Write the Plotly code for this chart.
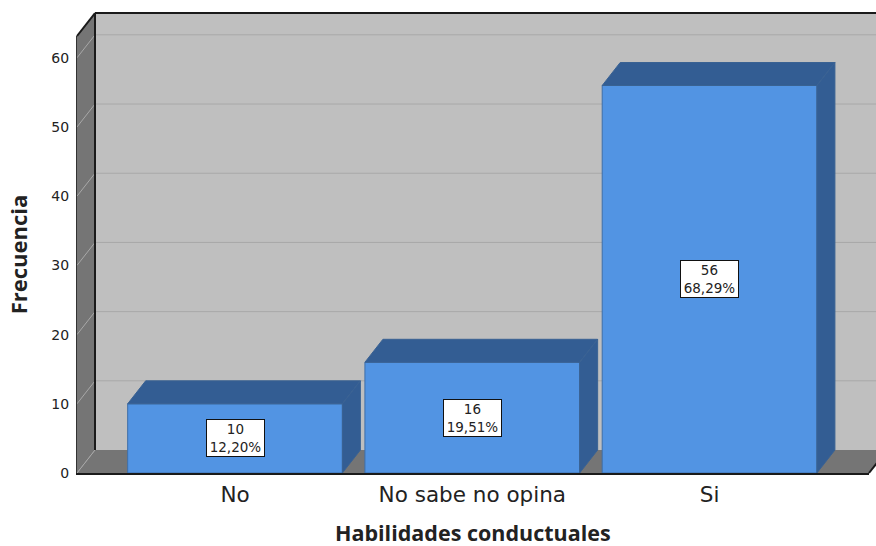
import plotly.graph_objects as go

categories = ["No", "No sabe no opina", "Si"]
positions = [0, 1, 2]
frequencies = [10, 16, 56]
percent_labels = ["12,20%", "19,51%", "68,29%"]
y_ticks = [0, 10, 20, 30, 40, 50, 60]

W, H = 876, 546
ML, MR, MT, MB = 77, 7, 36, 72.5
X_RANGE = [-0.666, 2.672]
Y_RANGE = [0, 63.15]
BAR_WIDTH = 0.905
DX = (X_RANGE[1] - X_RANGE[0]) * 18 / (W - ML - MR)
DY = (Y_RANGE[1] - Y_RANGE[0]) * 23 / (H - MT - MB)

BAR = "#5294e3"
BAR_DARK = "#335d93"
BACK = "#bfbfbf"
SIDE = "#757575"
GRID = "#a8a8a8"
INK = "#1a1a1a"
FONT = "DejaVu Sans"
TITLE_FONT = "Open Sans"


def px(x):
    return (x - X_RANGE[0]) / (X_RANGE[1] - X_RANGE[0])


def py(y):
    return (y - Y_RANGE[0]) / (Y_RANGE[1] - Y_RANGE[0])


def poly(points, fill=None, line=None, width=0):
    path = "M" + " L".join(f"{px(a):.5f},{py(b):.5f}" for a, b in points) + " Z"
    return dict(type="path", xref="paper", yref="paper", path=path, layer="below",
                fillcolor=fill or "rgba(0,0,0,0)",
                line=dict(color=line or "rgba(0,0,0,0)", width=width))


def seg(a, b, color, width):
    return dict(type="line", xref="paper", yref="paper", layer="below",
                x0=px(a[0]), y0=py(a[1]), x1=px(b[0]), y1=py(b[1]),
                line=dict(color=color, width=width))


x0, x1 = X_RANGE
y1 = Y_RANGE[1]
shapes = [
    poly([(x0 + DX, DY), (x1 + DX, DY), (x1 + DX, y1 + DY), (x0 + DX, y1 + DY)], BACK),
    poly([(x0, 0), (x0 + DX, DY), (x0 + DX, y1 + DY), (x0, y1)], SIDE),
    poly([(x0, 0), (x1, 0), (x1 + DX, DY), (x0 + DX, DY)], SIDE),
]
for t in y_ticks:
    if t > 0:
        shapes.append(seg((x0 + DX, t + DY), (x1 + DX, t + DY), GRID, 1))
    shapes.append(seg((x0, t), (x0 + DX, t + DY), GRID, 1))
shapes += [
    seg((x0 + DX, DY), (x0 + DX, y1 + DY), INK, 2),
    seg((x0 + DX, y1 + DY), (x1 + DX, y1 + DY), INK, 2),
    seg((x0, y1), (x0 + DX, y1 + DY), INK, 2),
    seg((x1, 0), (x1 + DX, DY), INK, 2),
]

fig = go.Figure()
fig.add_trace(go.Bar(x=positions, y=frequencies, width=BAR_WIDTH,
                     marker=dict(color=BAR, line=dict(color="#3f6fa8", width=1)),
                     hoverinfo="x+y", showlegend=False))

for pos, val in zip(positions, frequencies):
    left, right = pos - BAR_WIDTH / 2, pos + BAR_WIDTH / 2
    fig.add_trace(go.Scatter(
        x=[left, right, right + DX, left + DX, left],
        y=[val, val, val + DY, val + DY, val],
        mode="lines", fill="toself", fillcolor=BAR_DARK,
        line=dict(color="#3a6293", width=1), hoverinfo="skip", showlegend=False))
    fig.add_trace(go.Scatter(
        x=[right, right + DX, right + DX, right, right],
        y=[0, DY, val + DY, val, 0],
        mode="lines", fill="toself", fillcolor=BAR_DARK,
        line=dict(color="#3a6293", width=1), hoverinfo="skip", showlegend=False))

annotations = [
    dict(x=pos, y=val / 2, xref="x", yref="y", showarrow=False,
         text=f"{val}<br>{pct}", align="center",
         font=dict(family=FONT, size=13.5, color="#222222"),
         bgcolor="white", bordercolor="#111111", borderwidth=1,
         width=57, height=36, borderpad=0)
    for pos, val, pct in zip(positions, frequencies, percent_labels)
]
annotations.append(dict(
    x=0.5, y=0, xref="paper", yref="paper", yanchor="middle", yshift=-59,
    showarrow=False, text="<b>Habilidades conductuales</b>",
    font=dict(family=TITLE_FONT, size=21.5, color="#222222")))

fig.update_layout(
    width=W, height=H,
    margin=dict(l=ML, r=MR, t=MT, b=MB, autoexpand=False),
    paper_bgcolor="white", plot_bgcolor="rgba(0,0,0,0)",
    bargap=0.1, shapes=shapes, annotations=annotations, showlegend=False,
    xaxis=dict(range=X_RANGE, tickvals=positions, ticktext=categories,
               showgrid=False, zeroline=False, showline=True, linecolor=INK, linewidth=2,
               ticks="outside", ticklen=1, tickcolor="rgba(0,0,0,0)",
               tickfont=dict(family=FONT, size=21.5, color="#222222")),
    yaxis=dict(range=Y_RANGE, tickvals=y_ticks, showgrid=False, zeroline=False,
               showline=True, linecolor="#333333", linewidth=1,
               ticks="outside", ticklen=4, tickcolor="rgba(0,0,0,0)",
               tickfont=dict(family=FONT, size=14, color="#222222"),
               title=dict(text="<b>Frecuencia</b>", standoff=17,
                          font=dict(family=TITLE_FONT, size=22, color="#222222"))),
)

fig.write_html("out.html", config={"displayModeBar": False},
               post_script="document.body.style.margin='0';document.body.style.overflow='hidden';")
